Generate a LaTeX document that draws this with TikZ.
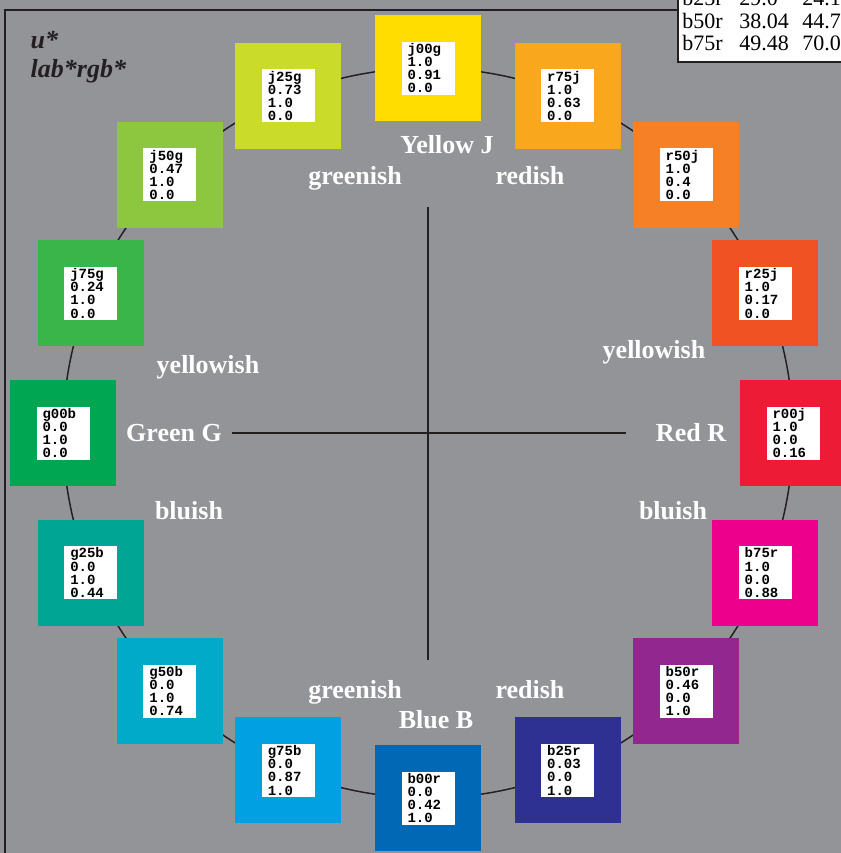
\documentclass[tikz,border=0pt]{standalone}
\usepackage{fontspec}
\setmainfont{Liberation Serif}
\newfontfamily\codefont{Liberation Mono}
\usetikzlibrary{positioning,calc}
\definecolor{bg}{HTML}{939498}
\definecolor{ink}{HTML}{231F20}
\definecolor{cj00g}{HTML}{FFDD00}
\definecolor{cr75j}{HTML}{F9A81E}
\definecolor{cr50j}{HTML}{F58025}
\definecolor{cr25j}{HTML}{F05223}
\definecolor{cr00j}{HTML}{ED1B36}
\definecolor{cb75r}{HTML}{EC008C}
\definecolor{cb50r}{HTML}{92278F}
\definecolor{cb25r}{HTML}{2E3192}
\definecolor{cb00r}{HTML}{0068B4}
\definecolor{cg75b}{HTML}{00A0E2}
\definecolor{cg50b}{HTML}{00AAC8}
\definecolor{cg25b}{HTML}{00A693}
\definecolor{cg00b}{HTML}{00A651}
\definecolor{cj75g}{HTML}{39B54A}
\definecolor{cj50g}{HTML}{8DC63F}
\definecolor{cj25g}{HTML}{CADB2A}
\tikzset{
  huebox/.style={minimum width=79.5pt, minimum height=79.5pt, inner sep=0pt},
  codebox/.style={fill=white, minimum height=39.75pt, text width=30.75pt, inner xsep=4.5pt, inner ysep=0pt, align=left, font=\codefont\bfseries\fontsize{10.5}{9.9}\selectfont},
  hue/.style={font=\bfseries\fontsize{19.5}{23}\selectfont, text=white, anchor=base},
  title/.style={font=\bfseries\itshape\fontsize{19.5}{23}\selectfont, text=ink, anchor=base west},
  cell/.style={font=\fontsize{16.5}{20}\selectfont, text=black, anchor=base west, inner sep=0pt},
  frame/.style={draw=ink, line width=1.5pt},
  ring/.style={draw=ink, line width=1.1pt}
}
\begin{document}
\begin{tikzpicture}[x=0.75pt,y=-0.75pt]
\clip (0,0) rectangle (841,853);
\fill[bg] (0,0) rectangle (841,853);
\draw[frame] (678,10) -- (5,10) -- (5,860);
\filldraw[fill=white, draw=ink, line width=1pt] (678,-5) rectangle (850,62);
\node[cell] (t1a) at (682,6) {b25r}; \node[cell] (t1b) at (739,6) {29.0}; \node[cell] (t1c) at (802,6) {24.1};
\node[cell] (t2a) at (682,28) {b50r}; \node[cell] (t2b) at (739,28) {38.04}; \node[cell] (t2c) at (802,28) {44.7};
\node[cell] (t3a) at (682,50) {b75r}; \node[cell] (t3b) at (739,50) {49.48}; \node[cell] (t3c) at (802,50) {70.0};
\node[title] (u) at (26,48) {u*};
\node[title] (lab) at (26,77) {lab*rgb*};
\coordinate (c) at (428,433);
\draw[ring] (c) circle (273.75pt);
\coordinate (hl) at (232,433); \coordinate (hr) at (626,433);
\coordinate (vt) at (428,207); \coordinate (vb) at (428,660);
\draw[ring] (hl) -- (hr); \draw[ring] (vt) -- (vb);
\foreach \ang/\nm/\vr/\vg/\vb in {90/j00g/1.0/0.91/0.0, 67.5/r75j/1.0/0.63/0.0, 45/r50j/1.0/0.4/0.0, 22.5/r25j/1.0/0.17/0.0, 0/r00j/1.0/0.0/0.16, -22.5/b75r/1.0/0.0/0.88, -45/b50r/0.46/0.0/1.0, -67.5/b25r/0.03/0.0/1.0, -90/b00r/0.0/0.42/1.0, -112.5/g75b/0.0/0.87/1.0, -135/g50b/0.0/1.0/0.74, -157.5/g25b/0.0/1.0/0.44, 180/g00b/0.0/1.0/0.0, 157.5/j75g/0.24/1.0/0.0, 135/j50g/0.47/1.0/0.0, 112.5/j25g/0.73/1.0/0.0}{
  \node[huebox, fill=c\nm] (\nm) at ($(c)+(\ang:273.75pt)$) {};
  \node[codebox] (\nm-v) at (\nm) {\nm\\\vr\\\vg\\\vb};
}
\node[hue] (yj) at (447,153) {Yellow J};
\node[hue] (gt) at (355,184) {greenish};
\node[hue] (rt) at (530,184) {redish};
\node[hue] (yl) at (208,373) {yellowish};
\node[hue] (yr) at (654,358) {yellowish};
\node[hue] (gg) at (174,441) {Green G};
\node[hue] (rr) at (691,441) {Red R};
\node[hue] (bl) at (189,519) {bluish};
\node[hue] (br) at (673,519) {bluish};
\node[hue] (gb) at (355,698) {greenish};
\node[hue] (rb) at (530,698) {redish};
\node[hue] (bb) at (436,728) {Blue B};
\end{tikzpicture}
\end{document}
